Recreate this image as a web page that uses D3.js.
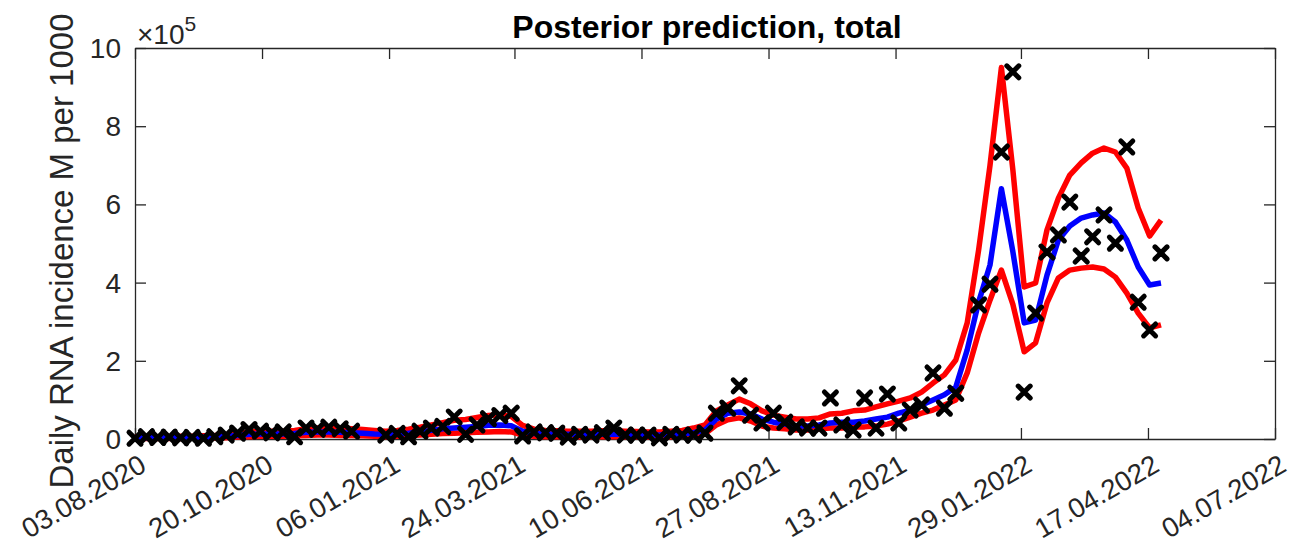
<!DOCTYPE html>
<html>
<head>
<meta charset="utf-8">
<script src="https://cdn.jsdelivr.net/npm/d3@7"></script>
<style>
  html, body { margin: 0; padding: 0; background: #fff; }
  svg { display: block; font-family: "Liberation Sans", Arial, Helvetica, sans-serif; }
</style>
</head>
<body>
<svg id="chart" width="1292" height="555"></svg>
<script>
// ---- data (values in units of 10^5) ----
const dates = [
  "2020-08-03","2020-08-10","2020-08-17","2020-08-24","2020-08-31","2020-09-07","2020-09-14","2020-09-21","2020-09-28",
  "2020-10-05","2020-10-12","2020-10-19","2020-10-26","2020-11-02","2020-11-09","2020-11-16","2020-11-23","2020-11-30",
  "2020-12-07","2020-12-14","2020-12-21","2020-12-28",
  "2021-01-04","2021-01-11","2021-01-18","2021-01-25","2021-02-01","2021-02-08","2021-02-15","2021-02-22",
  "2021-03-01","2021-03-08","2021-03-15","2021-03-22","2021-03-29","2021-04-05","2021-04-12","2021-04-19","2021-04-26",
  "2021-05-03","2021-05-10","2021-05-17","2021-05-24","2021-05-31","2021-06-07","2021-06-14","2021-06-21","2021-06-28",
  "2021-07-05","2021-07-12","2021-07-19","2021-07-26","2021-08-02","2021-08-09","2021-08-16","2021-08-23","2021-08-30",
  "2021-09-06","2021-09-13","2021-09-20","2021-09-27","2021-10-04","2021-10-11","2021-10-18","2021-10-25",
  "2021-11-01","2021-11-08","2021-11-15","2021-11-22","2021-11-29","2021-12-06","2021-12-13","2021-12-20","2021-12-27",
  "2022-01-03","2022-01-10","2022-01-17","2022-01-24","2022-01-31","2022-02-07","2022-02-14","2022-02-21","2022-02-28",
  "2022-03-07","2022-03-14","2022-03-21","2022-03-28","2022-04-04","2022-04-11","2022-04-18","2022-04-25"
];

const observed = [
  0.02,0.06,0.04,0.05,0.03,0.04,0.02,0.06,0.10,0.15,
  0.24,0.20,0.16,0.18,0.06,0.28,0.25,0.30,0.26,0.20,
  null,null,0.10,0.14,0.06,0.20,0.28,0.32,0.56,0.12,
  0.36,0.52,0.60,0.66,0.08,0.18,0.16,0.15,0.05,0.12,
  0.10,0.16,0.28,0.10,0.10,0.10,0.03,0.12,0.10,0.10,
  0.15,0.66,0.79,1.36,0.61,0.41,0.66,0.43,0.31,0.28,
  0.28,1.05,0.36,0.23,1.05,0.28,1.15,0.41,0.74,0.87,
  1.69,0.79,1.17,null,3.43,3.96,7.34,9.39,1.20,3.22,
  4.78,5.22,6.06,4.68,5.17,5.73,5.01,7.47,3.50,2.79,
  4.76
];

const meanPred = [
  0.03,0.03,0.03,0.03,0.035,0.04,0.045,0.05,0.07,0.09,
  0.12,0.13,0.13,0.13,0.14,0.17,0.18,0.18,0.17,0.16,
  0.15,0.13,0.12,0.13,0.15,0.18,0.22,0.26,0.28,0.30,
  0.32,0.35,0.36,0.34,0.20,0.14,0.13,0.12,0.12,0.12,
  0.12,0.12,0.12,0.12,0.11,0.10,0.10,0.12,0.13,0.16,
  0.23,0.51,0.66,0.69,0.64,0.51,0.43,0.38,0.33,0.33,
  0.36,0.41,0.43,0.43,0.46,0.51,0.56,0.66,0.74,0.87,
  1.00,1.13,1.33,2.28,3.50,4.45,6.40,4.80,2.97,3.04,
  4.19,5.09,5.45,5.65,5.73,5.78,5.55,5.09,4.40,3.94,
  3.99
];

const upperPred = [
  0.06,0.06,0.06,0.06,0.07,0.07,0.08,0.09,0.11,0.14,
  0.18,0.20,0.20,0.20,0.22,0.26,0.28,0.29,0.28,0.26,
  0.24,0.22,0.20,0.22,0.25,0.30,0.36,0.42,0.48,0.50,
  0.55,0.60,0.62,0.58,0.35,0.25,0.22,0.21,0.20,0.20,
  0.20,0.21,0.21,0.20,0.19,0.18,0.18,0.20,0.22,0.28,
  0.36,0.72,0.87,1.02,0.90,0.72,0.61,0.56,0.51,0.51,
  0.54,0.64,0.66,0.72,0.74,0.82,0.90,0.97,1.05,1.20,
  1.43,1.64,2.02,2.97,4.83,7.00,9.50,6.90,3.89,3.99,
  5.35,6.16,6.75,7.06,7.31,7.44,7.34,6.93,5.91,5.19,
  5.60
];

const lowerPred = [
  0.01,0.01,0.01,0.01,0.015,0.02,0.02,0.025,0.035,0.05,
  0.06,0.07,0.07,0.07,0.08,0.09,0.10,0.10,0.09,0.09,
  0.08,0.07,0.06,0.07,0.08,0.10,0.12,0.14,0.15,0.16,
  0.17,0.18,0.19,0.18,0.10,0.07,0.06,0.06,0.06,0.06,
  0.06,0.06,0.06,0.06,0.055,0.05,0.05,0.06,0.07,0.09,
  0.13,0.36,0.49,0.54,0.46,0.33,0.28,0.26,0.23,0.23,
  0.26,0.28,0.28,0.31,0.31,0.33,0.38,0.46,0.56,0.66,
  0.74,0.87,1.00,1.69,2.71,3.55,4.32,3.45,2.23,2.46,
  3.48,4.12,4.32,4.37,4.40,4.35,4.14,3.73,3.22,2.84,
  2.92
];

const xTickLabels = ["03.08.2020","20.10.2020","06.01.2021","24.03.2021","10.06.2021",
                     "27.08.2021","13.11.2021","29.01.2022","17.04.2022","04.07.2022"];
const yTickValues = [0, 2, 4, 6, 8, 10];

const titleText = "Posterior prediction, total";
const yLabelText = "Daily RNA incidence M per 1000";

// ---- layout ----
const L = 135, R = 1275, T = 48, B = 439;
const axisColor = "#262626";
const svg = d3.select("#chart");

const parseISO = d3.utcParse("%Y-%m-%d");
const parseDMY = d3.utcParse("%d.%m.%Y");
const x = d3.scaleUtc()
  .domain([parseDMY(xTickLabels[0]), parseDMY(xTickLabels[xTickLabels.length - 1])])
  .range([L, R]);
const y = d3.scaleLinear().domain([0, 10]).range([B, T]);

const rows = dates.map((d, i) => ({
  date: parseISO(d), obs: observed[i], mean: meanPred[i], up: upperPred[i], lo: lowerPred[i]
}));

const tickLen = 11;
const xTicks = xTickLabels.map(parseDMY);

// axes (bottom, left) with inward ticks
const gx = svg.append("g").attr("transform", `translate(0,${B})`)
  .call(d3.axisBottom(x).tickValues(xTicks).tickSizeInner(-tickLen).tickSizeOuter(0).tickFormat(""));
const gy = svg.append("g").attr("transform", `translate(${L},0)`)
  .call(d3.axisLeft(y).tickValues(yTickValues).tickSizeInner(-tickLen).tickSizeOuter(0).tickFormat(""));
// mirrored axes (top, right)
const gx2 = svg.append("g").attr("transform", `translate(0,${T})`)
  .call(d3.axisTop(x).tickValues(xTicks).tickSizeInner(-tickLen).tickSizeOuter(0).tickFormat(""));
const gy2 = svg.append("g").attr("transform", `translate(${R},0)`)
  .call(d3.axisRight(y).tickValues(yTickValues).tickSizeInner(-tickLen).tickSizeOuter(0).tickFormat(""));
[gx, gy, gx2, gy2].forEach(g => {
  g.selectAll("path.domain").attr("stroke", axisColor).attr("stroke-width", 1.3);
  g.selectAll(".tick line").attr("stroke", axisColor).attr("stroke-width", 1.3);
});

// x tick labels (rotated)
svg.append("g").selectAll("text").data(xTicks).join("text")
  .attr("transform", (d) => `translate(${x(d) + 3},${B + 14}) rotate(-30)`)
  .attr("text-anchor", "end")
  .attr("dy", "0.72em")
  .attr("font-size", 27.5)
  .attr("fill", axisColor)
  .text((d, i) => xTickLabels[i]);

// y tick labels
svg.append("g").selectAll("text").data(yTickValues).join("text")
  .attr("x", L - 14)
  .attr("y", d => y(d))
  .attr("dy", "0.36em")
  .attr("text-anchor", "end")
  .attr("font-size", 28)
  .attr("fill", axisColor)
  .text(d => d);

// exponent label
const ex = svg.append("text").attr("x", L + 2).attr("y", T - 4)
  .attr("font-size", 28).attr("fill", axisColor);
ex.append("tspan").text("\u00D710");
ex.append("tspan").attr("dy", -13).attr("font-size", 21).text("5");

// y label
svg.append("text")
  .attr("transform", `translate(73,251) rotate(-90)`)
  .attr("text-anchor", "middle")
  .attr("font-size", 33)
  .attr("fill", axisColor)
  .text(yLabelText);

// title
svg.append("text")
  .attr("x", (L + R) / 2 + 2).attr("y", 38)
  .attr("text-anchor", "middle")
  .attr("font-size", 32).attr("font-weight", "bold")
  .attr("fill", "#000")
  .text(titleText);

// lines
const lineOf = key => d3.line().x(d => x(d.date)).y(d => y(d[key]));
const plot = svg.append("g");
plot.append("path").datum(rows).attr("d", lineOf("up"))
  .attr("fill", "none").attr("stroke", "#ff0000").attr("stroke-width", 5.5).attr("stroke-linejoin", "round");
plot.append("path").datum(rows).attr("d", lineOf("lo"))
  .attr("fill", "none").attr("stroke", "#ff0000").attr("stroke-width", 5.5).attr("stroke-linejoin", "round");
plot.append("path").datum(rows).attr("d", lineOf("mean"))
  .attr("fill", "none").attr("stroke", "#0000ff").attr("stroke-width", 5.5).attr("stroke-linejoin", "round");

// markers
const s = 6;
plot.append("g").selectAll("path").data(rows.filter(d => d.obs != null)).join("path")
  .attr("transform", d => `translate(${x(d.date)},${y(d.obs)})`)
  .attr("d", `M${-s},${-s}L${s},${s}M${-s},${s}L${s},${-s}`)
  .attr("stroke", "#000").attr("stroke-width", 5).attr("stroke-linecap", "round")
  .attr("fill", "none");
</script>
</body>
</html>
